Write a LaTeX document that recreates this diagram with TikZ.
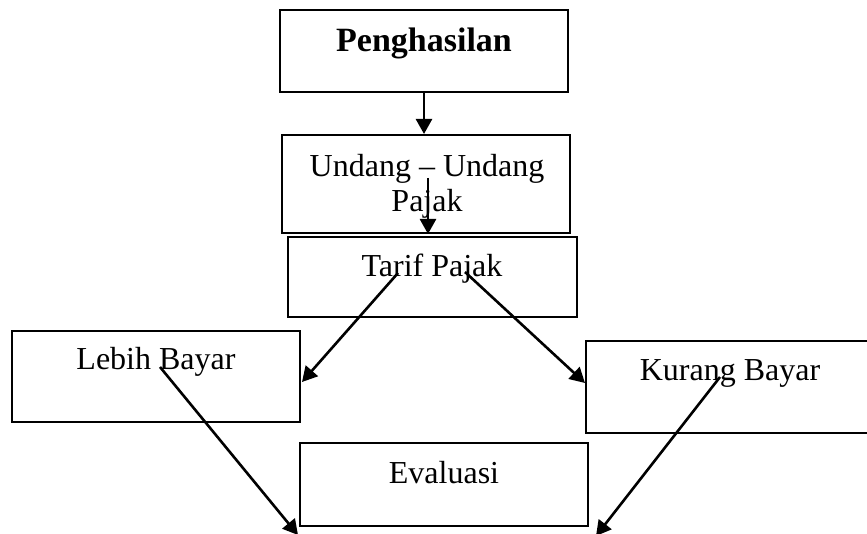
\documentclass[tikz,border=0pt]{standalone}
\usepackage{fontspec}
\setmainfont{Liberation Serif}
\usetikzlibrary{arrows.meta}
\begin{document}
\begin{tikzpicture}[x=1pt,y=-1pt,
  box/.style={draw=black,line width=2pt,inner sep=0pt},
  lbl/.style={anchor=base,inner sep=0pt,font=\fontsize{32}{38}\selectfont},
  arr/.style={line width=2.6pt,-{Triangle[length=15pt,width=16pt]}}]
\useasboundingbox (0,0) rectangle (867,534);
\fill[white] (0,0) rectangle (867,534);
% boxes
\node[box,minimum width=288pt,minimum height=82pt] (peng) at (424,51) {};
\node[box,minimum width=288pt,minimum height=98pt] (uu) at (426,184) {};
\node[box,minimum width=289pt,minimum height=80pt] (tarif) at (432.5,277) {};
\node[box,minimum width=288pt,minimum height=91pt] (lebih) at (156,376.5) {};
\node[box,minimum width=282pt,minimum height=92pt] (kurang) at (727,387) {};
\node[box,minimum width=288pt,minimum height=83pt] (eval) at (444,484.5) {};
% texts
\node[lbl,font=\fontsize{34}{40}\selectfont\bfseries] (tpeng) at (424,52) {Penghasilan};
\node[lbl] (tuu1) at (427,177) {Undang – Undang};
\node[lbl] (tuu2) at (427,212) {Pajak};
\node[lbl] (ttarif) at (432,277) {Tarif Pajak};
\node[lbl] (tlebih) at (156,370) {Lebih Bayar};
\node[lbl] (tkurang) at (730,380) {Kurang Bayar};
\node[lbl] (teval) at (444,483) {Evaluasi};
% arrow anchors
\coordinate (a2s) at (428,178);
\coordinate (a3s) at (398,273);
\coordinate (a3e) at (302,382);
\coordinate (a4s) at (465,272);
\coordinate (a4e) at (585,383);
\coordinate (a5s) at (160,367);
\coordinate (a5e) at (298,535);
\coordinate (a6s) at (720,377);
\coordinate (a6e) at (596,536);
% arrows
\draw[arr] (peng.south -| tpeng) -- (uu.north -| tpeng);
\draw[arr] (a2s) -- (a2s |- uu.south);
\draw[arr] (a3s) -- (a3e);
\draw[arr] (a4s) -- (a4e);
\draw[arr] (a5s) -- (a5e);
\draw[arr] (a6s) -- (a6e);
\end{tikzpicture}
\end{document}
